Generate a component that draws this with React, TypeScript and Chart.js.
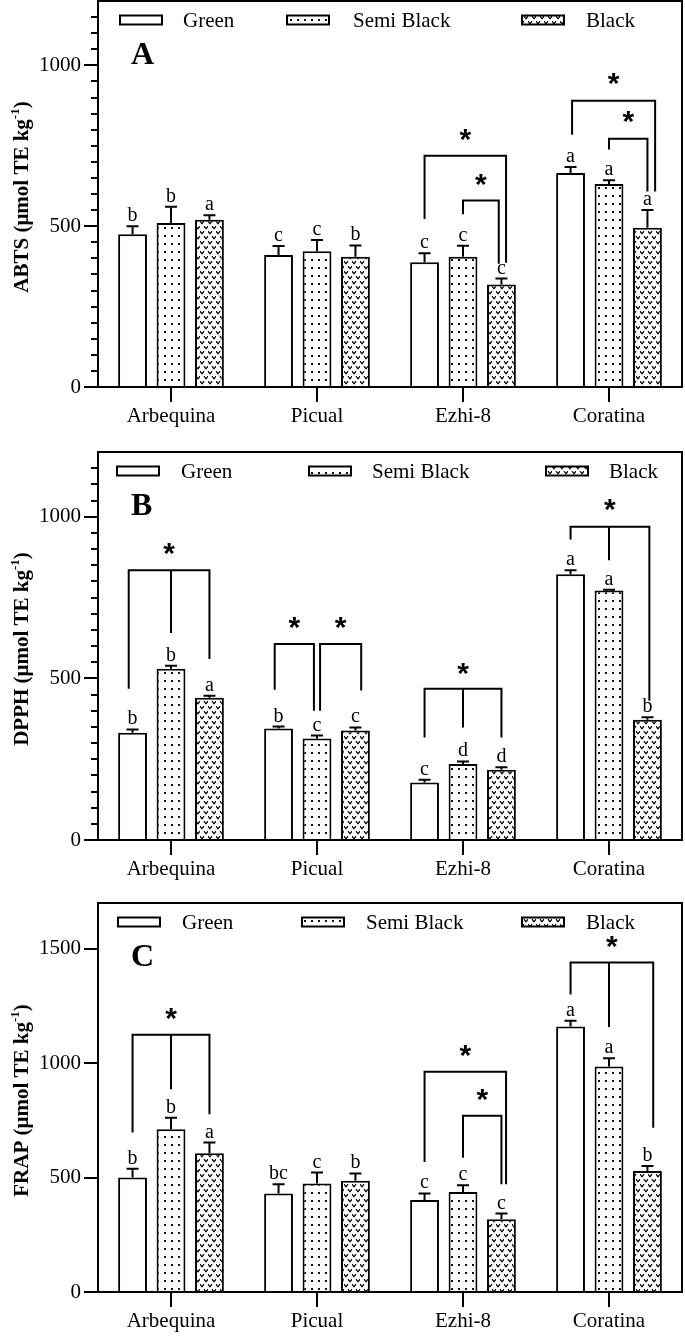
import { useEffect, useRef } from "react";
import { Chart, registerables } from "chart.js";

Chart.register(...registerables);

// ---------------- data ----------------
const categories = ["Arbequina", "Picual", "Ezhi-8", "Coratina"];
const seriesNames = ["Green", "Semi Black", "Black"];

// Panel A : ABTS
const abtsGreen = [475, 410, 388, 665];
const abtsSemi = [510, 422, 405, 631];
const abtsBlack = [520, 405, 319, 495];
const abtsGreenErr = [25, 28, 28, 19];
const abtsSemiErr = [50, 35, 34, 12];
const abtsBlackErr = [14, 35, 18, 55];
const abtsGreenLetters = ["b", "c", "c", "a"];
const abtsSemiLetters = ["b", "c", "c", "a"];
const abtsBlackLetters = ["a", "b", "c", "a"];
const abtsTicks = [0, 500, 1000];

// Panel B : DPPH
const dpphGreen = [332, 345, 178, 822];
const dpphSemi = [530, 314, 235, 772];
const dpphBlack = [440, 339, 217, 372];
const dpphGreenErr = [10, 6, 8, 12];
const dpphSemiErr = [9, 9, 8, 2];
const dpphBlackErr = [6, 9, 8, 8];
const dpphGreenLetters = ["b", "b", "c", "a"];
const dpphSemiLetters = ["b", "c", "d", "a"];
const dpphBlackLetters = ["a", "c", "d", "b"];
const dpphTicks = [0, 500, 1000];

// Panel C : FRAP
const frapGreen = [500, 430, 402, 1160];
const frapSemi = [711, 474, 437, 985];
const frapBlack = [606, 486, 318, 529];
const frapGreenErr = [39, 41, 29, 25];
const frapSemiErr = [51, 48, 29, 36];
const frapBlackErr = [47, 32, 25, 22];
const frapGreenLetters = ["b", "bc", "c", "a"];
const frapSemiLetters = ["b", "c", "c", "a"];
const frapBlackLetters = ["a", "b", "c", "b"];
const frapTicks = [0, 500, 1000, 1500];

// significance brackets: legs = [series index, x shift (slot fraction), leg end value]
type Leg = [number, number, number];
type Bracket = { cat: number; top: number; star: number; legs: Leg[] };

const abtsBrackets: Bracket[] = [
  { cat: 2, top: 719, star: 784, legs: [[0, 0, 522], [2, 0.12, 386]] },
  { cat: 2, top: 580, star: 642, legs: [[1, 0, 537], [2, -0.07, 383]] },
  { cat: 3, top: 890, star: 957, legs: [[0, 0.04, 784], [2, 0.2, 608]] },
  { cat: 3, top: 772, star: 840, legs: [[1, 0, 738], [2, 0, 608]] },
];
const dpphBrackets: Bracket[] = [
  { cat: 0, top: 834, star: 901, legs: [[0, -0.1, 468], [1, 0, 640], [2, 0, 560]] },
  { cat: 1, top: 606, star: 671, legs: [[0, -0.1, 465], [1, -0.08, 400]] },
  { cat: 1, top: 606, star: 671, legs: [[1, 0.08, 400], [2, 0.15, 462]] },
  { cat: 2, top: 468, star: 529, legs: [[0, 0, 317], [1, 0, 348], [2, 0, 317]] },
  { cat: 3, top: 969, star: 1037, legs: [[0, 0, 929], [1, 0, 865], [2, 0.05, 431]] },
];
const frapBrackets: Bracket[] = [
  { cat: 0, top: 1124, star: 1217, legs: [[0, 0, 697], [1, 0, 886], [2, 0, 777]] },
  { cat: 2, top: 962, star: 1054, legs: [[0, 0, 568], [2, 0.12, 471]] },
  { cat: 2, top: 770, star: 861, legs: [[1, 0, 587], [2, 0, 471]] },
  { cat: 3, top: 1440, star: 1530, legs: [[0, 0, 1300], [1, 0, 1158], [2, 0.15, 718]] },
];

// ---------------- layout / styling ----------------
const SERIF = "'Liberation Serif', 'Times New Roman', serif";
const SANS = "'Liberation Sans', Arial, sans-serif";

type Spec = {
  id: string;
  letter: string;
  titleMain: string;
  max: number;
  ticks: number[];
  minor: number | null;
  values: number[][];
  errors: number[][];
  letters: string[][];
  brackets: Bracket[];
  legendBoxX: number[];
  legendTextX: number[];
  canvasTop: number;
  height: number;
  areaTop: number;
  areaBottom: number;
};

const specs: Spec[] = [
  {
    id: "A", letter: "A", titleMain: "ABTS (\u03bcmol TE kg", max: 1200, ticks: abtsTicks, minor: 50,
    values: [abtsGreen, abtsSemi, abtsBlack],
    errors: [abtsGreenErr, abtsSemiErr, abtsBlackErr],
    letters: [abtsGreenLetters, abtsSemiLetters, abtsBlackLetters],
    brackets: abtsBrackets,
    legendBoxX: [120, 287, 522], legendTextX: [183, 353, 586],
    canvasTop: 0, height: 445, areaTop: 1, areaBottom: 387,
  },
  {
    id: "B", letter: "B", titleMain: "DPPH (\u03bcmol TE kg", max: 1200, ticks: dpphTicks, minor: 50,
    values: [dpphGreen, dpphSemi, dpphBlack],
    errors: [dpphGreenErr, dpphSemiErr, dpphBlackErr],
    letters: [dpphGreenLetters, dpphSemiLetters, dpphBlackLetters],
    brackets: dpphBrackets,
    legendBoxX: [117, 309, 546], legendTextX: [181, 372, 609],
    canvasTop: 445, height: 448, areaTop: 7, areaBottom: 395,
  },
  {
    id: "C", letter: "C", titleMain: "FRAP (\u03bcmol TE kg", max: 1700, ticks: frapTicks, minor: null,
    values: [frapGreen, frapSemi, frapBlack],
    errors: [frapGreenErr, frapSemiErr, frapBlackErr],
    letters: [frapGreenLetters, frapSemiLetters, frapBlackLetters],
    brackets: frapBrackets,
    legendBoxX: [118, 302, 522], legendTextX: [182, 366, 586],
    canvasTop: 893, height: 443, areaTop: 10, areaBottom: 399,
  },
];

function makeDots(ctx: CanvasRenderingContext2D): CanvasPattern {
  const t = document.createElement("canvas");
  t.width = 7;
  t.height = 8;
  const c = t.getContext("2d")!;
  c.fillStyle = "#fff";
  c.fillRect(0, 0, 7, 8);
  c.fillStyle = "#111";
  c.fillRect(3, 3, 2, 2);
  return ctx.createPattern(t, "repeat")!;
}

function makeChevrons(ctx: CanvasRenderingContext2D): CanvasPattern {
  const t = document.createElement("canvas");
  t.width = 8;
  t.height = 10;
  const c = t.getContext("2d")!;
  c.fillStyle = "#fff";
  c.fillRect(0, 0, 8, 10);
  c.strokeStyle = "#000";
  c.lineWidth = 1.3;
  const v = (x: number, y: number) => {
    c.beginPath();
    c.moveTo(x - 2, y);
    c.lineTo(x, y + 2.6);
    c.lineTo(x + 2, y);
    c.stroke();
  };
  v(2, 1.2);
  v(6, 6.2);
  return ctx.createPattern(t, "repeat")!;
}

function drawYTitle(ctx: CanvasRenderingContext2D, bx: number, cy: number, main: string) {
  const sup = "-1";
  const tail = ")";
  ctx.save();
  ctx.translate(bx, cy);
  ctx.rotate(-Math.PI / 2);
  ctx.fillStyle = "#000";
  ctx.textAlign = "left";
  ctx.textBaseline = "alphabetic";
  const fMain = `bold 21px ${SERIF}`;
  const fSup = `bold 13px ${SERIF}`;
  ctx.font = fMain;
  const w1 = ctx.measureText(main).width;
  const w3 = ctx.measureText(tail).width;
  ctx.font = fSup;
  const w2 = ctx.measureText(sup).width;
  let x = -(w1 + w2 + w3) / 2;
  ctx.font = fMain;
  ctx.fillText(main, x, 0);
  x += w1;
  ctx.font = fSup;
  ctx.fillText(sup, x, -9);
  x += w2;
  ctx.font = fMain;
  ctx.fillText(tail, x, 0);
  ctx.restore();
}

function drawStar(ctx: CanvasRenderingContext2D, x: number, y: number) {
  ctx.save();
  ctx.font = `bold 30px ${SANS}`;
  ctx.textAlign = "center";
  ctx.textBaseline = "alphabetic";
  const m = ctx.measureText("*");
  const asc = m.actualBoundingBoxAscent;
  const desc = m.actualBoundingBoxDescent;
  ctx.fillStyle = "#000";
  ctx.fillText("*", x, y + (asc - desc) / 2);
  ctx.restore();
}

function decorPlugin(spec: Spec, fills: (string | CanvasPattern)[]) {
  return {
    id: "decor" + spec.id,
    afterDatasetsDraw(chart: any) {
      const ctx: CanvasRenderingContext2D = chart.ctx;
      const area = chart.chartArea;
      const ys = chart.scales.y;
      ctx.save();
      ctx.strokeStyle = "#000";
      ctx.fillStyle = "#000";
      ctx.lineWidth = 2;
      ctx.lineCap = "butt";

      // frame (top and right)
      ctx.beginPath();
      ctx.moveTo(area.left, area.top);
      ctx.lineTo(area.right, area.top);
      ctx.lineTo(area.right, area.bottom);
      ctx.stroke();

      // minor ticks
      if (spec.minor) {
        ctx.beginPath();
        for (let v = spec.minor; v < spec.max; v += spec.minor) {
          if (spec.ticks.indexOf(v) >= 0) continue;
          const py = Math.round(ys.getPixelForValue(v));
          ctx.moveTo(area.left - 7, py);
          ctx.lineTo(area.left, py);
        }
        ctx.stroke();
      }

      // error bars + letters
      for (let s = 0; s < 3; s++) {
        const meta = chart.getDatasetMeta(s);
        for (let c = 0; c < categories.length; c++) {
          const el = meta.data[c];
          const v = spec.values[s][c];
          const e = spec.errors[s][c];
          const y0 = ys.getPixelForValue(v);
          const y1 = ys.getPixelForValue(v + e);
          ctx.beginPath();
          ctx.moveTo(el.x, y0);
          ctx.lineTo(el.x, y1);
          ctx.moveTo(el.x - 6, y1);
          ctx.lineTo(el.x + 6, y1);
          ctx.stroke();
          ctx.font = `20px ${SERIF}`;
          ctx.textAlign = "center";
          ctx.textBaseline = "alphabetic";
          ctx.fillText(spec.letters[s][c], el.x, y1 - 5);
        }
      }

      // brackets
      for (const b of spec.brackets) {
        const xs = b.legs.map((l) => {
          const el = chart.getDatasetMeta(l[0]).data[b.cat];
          const slot = el.width / 0.75;
          return el.x + l[1] * slot;
        });
        const yt = ys.getPixelForValue(b.top);
        const n = b.legs.length;
        ctx.lineJoin = "miter";
        ctx.beginPath();
        ctx.moveTo(xs[0], ys.getPixelForValue(b.legs[0][2]));
        ctx.lineTo(xs[0], yt);
        ctx.lineTo(xs[n - 1], yt);
        ctx.lineTo(xs[n - 1], ys.getPixelForValue(b.legs[n - 1][2]));
        for (let i = 1; i < n - 1; i++) {
          ctx.moveTo(xs[i], yt);
          ctx.lineTo(xs[i], ys.getPixelForValue(b.legs[i][2]));
        }
        ctx.stroke();
        drawStar(ctx, (xs[0] + xs[n - 1]) / 2, ys.getPixelForValue(b.star));
      }

      // legend
      const ly = area.top + 19;
      for (let i = 0; i < 3; i++) {
        const bx = spec.legendBoxX[i];
        ctx.fillStyle = fills[i] as any;
        ctx.fillRect(bx, ly - 4.5, 42, 9);
        ctx.strokeRect(bx, ly - 4.5, 42, 9);
        ctx.fillStyle = "#000";
        ctx.font = `21px ${SERIF}`;
        ctx.textAlign = "left";
        ctx.textBaseline = "middle";
        ctx.fillText(chart.data.datasets[i].label, spec.legendTextX[i], ly + 1);
      }

      // panel letter
      ctx.font = `bold 32px ${SERIF}`;
      ctx.textAlign = "left";
      ctx.textBaseline = "middle";
      ctx.fillText(spec.letter, 131, area.top + 55);

      // y axis title
      drawYTitle(ctx, 28, (area.top + area.bottom) / 2 + 3, spec.titleMain);

      ctx.restore();
    },
  };
}

function Panel({ spec }: { spec: Spec }) {
  const ref = useRef<HTMLCanvasElement>(null);
  useEffect(() => {
    const canvas = ref.current!;
    const ctx = canvas.getContext("2d")!;
    const fills: (string | CanvasPattern)[] = ["#ffffff", makeDots(ctx), makeChevrons(ctx)];
    const chart = new Chart(canvas, {
      type: "bar",
      data: {
        labels: categories,
        datasets: seriesNames.map((name, i) => ({
          label: name,
          data: spec.values[i],
          backgroundColor: fills[i] as any,
          borderColor: "#000",
          borderWidth: 2,
          categoryPercentage: 0.79,
          barPercentage: 0.75,
        })),
      },
      options: {
        responsive: false,
        animation: false,
        devicePixelRatio: 1,
        layout: { padding: { top: spec.areaTop, right: 3, left: 0, bottom: 0 } },
        plugins: { legend: { display: false }, tooltip: { enabled: false } },
        scales: {
          x: {
            type: "category",
            offset: true,
            grid: { display: true, offset: false, drawOnChartArea: false, drawTicks: true, tickLength: 15, color: "#000", lineWidth: 2 },
            border: { display: true, color: "#000", width: 2 },
            ticks: { color: "#000", font: { family: SERIF, size: 21 }, padding: 2, maxRotation: 0, autoSkip: false },
            afterFit: (s: any) => {
              s.height = spec.height - spec.areaBottom;
              s.paddingLeft = 0;
              s.paddingRight = 0;
            },
          },
          y: {
            min: 0,
            max: spec.max,
            grid: { drawOnChartArea: false, drawTicks: true, tickLength: 14, color: "#000", lineWidth: 2 },
            border: { display: true, color: "#000", width: 2 },
            ticks: {
              color: "#000",
              font: { family: SERIF, size: 21 },
              padding: 3,
              autoSkip: false,
              callback: (v: any) => String(v),
            },
            afterBuildTicks: (s: any) => { s.ticks = spec.ticks.map((v) => ({ value: v })); },
            afterFit: (s: any) => {
              s.width = 98;
              s.paddingTop = 0;
              s.paddingBottom = 0;
            },
          },
        },
      } as any,
      plugins: [decorPlugin(spec, fills)],
    });
    return () => chart.destroy();
  }, [spec]);
  return (
    <canvas
      ref={ref}
      width={685}
      height={spec.height}
      style={{ position: "absolute", left: 0, top: spec.canvasTop, display: "block" }}
    />
  );
}

export default function App() {
  useEffect(() => {
    document.body.style.margin = "0";
  }, []);
  return (
    <div style={{ position: "relative", width: 685, height: 1336, background: "#fff" }}>
      {specs.map((s) => (
        <Panel key={s.id} spec={s} />
      ))}
    </div>
  );
}
